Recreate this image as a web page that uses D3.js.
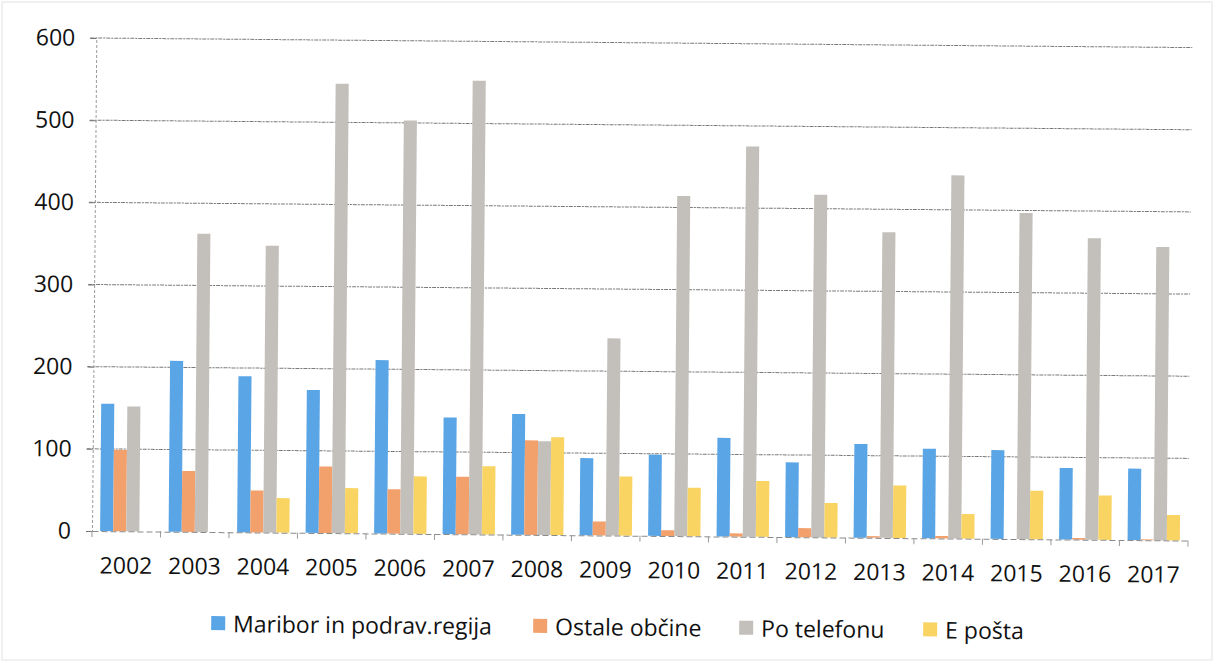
<!DOCTYPE html>
<meta charset="utf-8">
<style>
body { margin: 0; background: #fff; }
text { font-family: "Open Sans", sans-serif; fill: #111; }
.grid line { stroke: #5a5a5a; stroke-width: 1; stroke-dasharray: 4,1,2,1; opacity: 0.8; }
</style>
<svg id="chart" width="1216" height="664"></svg>
<script src="https://cdn.jsdelivr.net/npm/d3@7"></script>
<script>
// data
var years = ["2002","2003","2004","2005","2006","2007","2008","2009","2010","2011","2012","2013","2014","2015","2016","2017"];
var seriesNames = ["Maribor in podrav.regija", "Ostale občine", "Po telefonu", "E pošta"];
var maribor = [155, 208, 190, 174, 211, 142, 147, 94, 99, 120, 91, 114, 109, 108, 87, 87];
var ostale  = [99, 74, 51, 81, 54, 70, 115, 17, 7, 4, 11, 2, 3, 0, 2, 1];
var telefon = [152, 363, 349, 547, 503, 552, 114, 240, 414, 475, 417, 372, 442, 397, 367, 357];
var eposta  = [0, 0, 42, 55, 70, 83, 119, 72, 59, 68, 42, 64, 30, 59, 54, 31];
var yTicks = [0, 100, 200, 300, 400, 500, 600];
var colors = ["#59a5e6", "#f2a06c", "#c3c0bb", "#f9d462"];

var table = years.map(function(y, i) {
  return { year: y, values: [maribor[i], ostale[i], telefon[i], eposta[i]] };
});

var svg = d3.select("#chart");
var plotLeft = 92, plotRight = 1188, plotTop = 38, plotBottom = 531;

// faint frame of the scanned page
svg.append("rect")
    .attr("x", 2).attr("y", 2).attr("width", 1210).attr("height", 658)
    .attr("fill", "none").attr("stroke", "#e2e2e2");

// the scan is tilted a little, so the whole chart is turned to match
var g = svg.append("g")
    .attr("transform", "rotate(0.5," + plotLeft + "," + plotBottom + ")");

var x = d3.scaleBand().domain(years).range([plotLeft, plotRight]).padding(0);
var x1 = d3.scaleBand().domain(d3.range(4)).range([0, x.bandwidth()])
    .paddingInner(0).paddingOuter(0.62);
var y = d3.scaleLinear().domain([0, 600]).range([plotBottom, plotTop]);

// gridlines
g.append("g").attr("class", "grid")
  .selectAll("line")
  .data(yTicks.filter(function(d) { return d > 0; }))
  .enter().append("line")
    .attr("x1", plotLeft - 6).attr("x2", plotRight)
    .attr("y1", function(d) { return y(d); })
    .attr("y2", function(d) { return y(d); });

// y axis
var yAxis = g.append("g")
    .attr("transform", "translate(" + plotLeft + ",0)")
    .call(d3.axisLeft(y).tickValues(yTicks).tickSize(6).tickPadding(15));
yAxis.select(".domain").attr("stroke", "#9a9a9a").attr("stroke-dasharray", "3,2");
yAxis.selectAll(".tick line").attr("stroke", "#777");
yAxis.selectAll("text").style("font-size", "23px").attr("fill", "#111");

// bars
g.append("g")
  .selectAll("g")
  .data(table)
  .enter().append("g")
    .attr("transform", function(d) { return "translate(" + x(d.year) + ",0)"; })
  .selectAll("rect")
  .data(function(d) { return d.values.map(function(v, k) { return { k: k, v: v }; }); })
  .enter().append("rect")
    .attr("x", function(d) { return x1(d.k); })
    .attr("width", x1.bandwidth())
    .attr("y", function(d) { return y(d.v); })
    .attr("height", function(d) { return plotBottom - y(d.v); })
    .attr("fill", function(d) { return colors[d.k]; });

// x axis
var xAxis = g.append("g")
    .attr("transform", "translate(0," + plotBottom + ")")
    .call(d3.axisBottom(x).tickSize(0).tickPadding(26));
xAxis.select(".domain").attr("stroke", "#8a8a8a").attr("stroke-dasharray", "6,3");
xAxis.selectAll("text").style("font-size", "23px").attr("fill", "#111");
g.append("g")
  .selectAll("line")
  .data(years.concat(["end"]))
  .enter().append("line")
    .attr("x1", function(d, i) { return plotLeft + i * x.step(); })
    .attr("x2", function(d, i) { return plotLeft + i * x.step(); })
    .attr("y1", plotBottom).attr("y2", plotBottom + 6)
    .attr("stroke", "#999");

// legend
var legendX = [212, 534, 740, 924];
var legend = g.append("g")
  .selectAll("g")
  .data(seriesNames)
  .enter().append("g")
    .attr("transform", function(d, i) { return "translate(" + legendX[i] + ",615)"; });
legend.append("rect")
    .attr("width", 14).attr("height", 14)
    .attr("fill", function(d, i) { return colors[i]; });
legend.append("text")
    .attr("x", 22).attr("y", 16)
    .style("font-size", "23px")
    .text(function(d) { return d; });
</script>
